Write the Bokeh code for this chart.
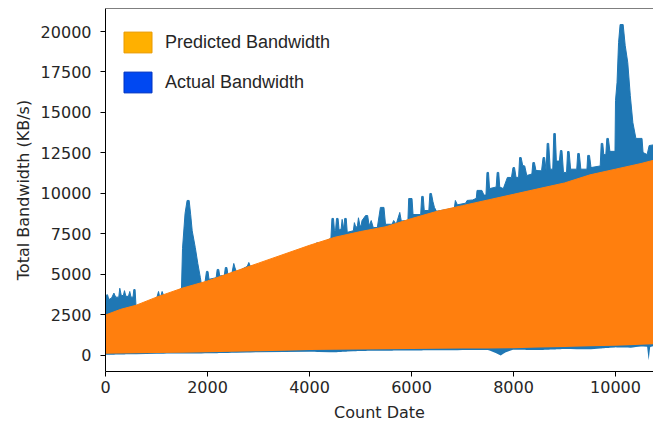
import numpy as np
from bokeh.plotting import figure
from bokeh.models import FixedTicker, Span, Legend, LegendItem, Range1d
from bokeh.embed import file_html
from bokeh.resources import INLINE

# ---- data ----
blue_hi_x = [0, 40, 65, 120, 165, 200, 260, 280, 310, 350, 372, 400, 450, 476, 500, 540, 555, 580, 600,
             1000, 1040, 1070, 1110, 1140, 1200, 1400, 1490, 1510, 1560, 1600, 1640, 1670, 1700,
             1760, 1810, 1860, 1880, 1950, 1980, 2010, 2030, 2170, 2190, 2220, 2240, 2330, 2350,
             2380, 2400, 2480, 2515, 2540, 2570, 2780, 2810, 2840, 3000, 3500, 4000, 4100, 4150,
             4180, 4400, 4420, 4440, 4470, 4490, 4510, 4530, 4560, 4580, 4620, 4640, 4670, 4690,
             4720, 4740, 4860, 4880, 4910, 4940, 4960, 4990, 5010, 5030, 5100, 5140, 5170, 5210,
             5250, 5330, 5390, 5460, 5490, 5620, 5650, 5700, 5770, 5800, 5930, 5945, 6010, 6030,
             6180, 6200, 6230, 6250, 6340, 6360, 6390, 6420, 6450, 6490, 6840, 6860, 6900, 7060,
             7090, 7200, 7270, 7285, 7380, 7420, 7460, 7480, 7510, 7530, 7660, 7680, 7710, 7730,
             7800, 7880, 7960, 7990, 8020, 8050, 8100, 8120, 8150, 8180, 8220, 8260, 8360, 8380,
             8410, 8440, 8550, 8580, 8610, 8640, 8660, 8690, 8720, 8770, 8790, 8820, 8840, 8900,
             8920, 8950, 8980, 9040, 9060, 9090, 9120, 9240, 9260, 9290, 9320, 9440, 9455, 9490,
             9520, 9700, 9720, 9750, 9770, 9810, 9830, 9860, 9890, 9990, 10000, 10030, 10060,
             10090, 10150, 10190, 10240, 10290, 10340, 10400, 10520, 10540, 10620, 10660, 10745]
blue_hi_y = [3700, 3750, 3450, 3550, 3850, 3600, 3600, 4150, 3700, 3700, 4000, 3650, 3650, 3950, 3600, 3600, 4070, 4070, 2950,
             3500, 3950, 3500, 3950, 3700, 3700, 3950, 4150, 6600, 8770, 9570, 9570, 8700, 7700,
             6670, 5680, 4800, 4400, 4500, 5190, 5190, 4700, 4800, 5310, 5310, 4900, 4950, 5430,
             5430, 5000, 5100, 5680, 5400, 5150, 5500, 5740, 5500, 5600, 6150, 6700, 6800, 6980,
             6850, 7200, 7250, 8460, 8460, 7700, 7700, 8460, 8460, 7750, 7800, 8400, 7800, 8460,
             8460, 7600, 7700, 8200, 7900, 8000, 8500, 8000, 8000, 8330, 8640, 8640, 8000, 8330,
             7900, 7900, 9140, 9140, 8100, 8100, 8330, 8100, 8830, 8300, 8350, 9690, 9690, 8700,
             8700, 9820, 9820, 8950, 8950, 10000, 10000, 9500, 9140, 8900, 9100, 9570, 9300, 9400,
             9570, 9600, 9700, 10190, 10190, 9900, 9900, 11300, 11300, 10300, 10400, 11300, 11300, 10400,
             10300, 10990, 10990, 11600, 11600, 10990, 11000, 12220, 12220, 11730, 11700, 11110, 11200, 11910,
             11910, 11420, 11400, 12220, 12220, 11400, 13090, 13090, 11500, 11500, 13700, 13700, 12000, 12000,
             12650, 12650, 11300, 11300, 12590, 12590, 11500, 11500, 12470, 12470, 11500, 11500, 12350, 12350,
             11600, 11700, 13090, 13090, 12400, 12400, 13400, 13400, 12600, 12600, 15740, 16850, 19320,
             20430, 20430, 19140, 18090, 16050, 14380, 13400, 13400, 12530, 12400, 12960, 13000]

blue_lo_x = [0, 1000, 2000, 3000, 4000, 4500, 5000, 6000, 7000, 7500, 7650, 7750, 7850, 8000, 8500,
             9000, 9500, 10000, 10300, 10500, 10620, 10650, 10680, 10745]
blue_lo_y = [40, 110, 130, 200, 230, 200, 280, 310, 330, 340, 150, 0, 200, 360, 330,
             400, 380, 500, 480, 560, 540, -300, 520, 580]

pred_hi_x = [0, 300, 600, 1000, 1500, 2000, 2500, 3000, 3500, 4000, 4500, 5000, 5500, 6000,
             6500, 7000, 7500, 8000, 8500, 9000, 9500, 10000, 10500, 10745]
pred_hi_y = [2500, 2850, 3100, 3600, 4150, 4600, 5150, 5700, 6250, 6800, 7300, 7650, 7950, 8450,
             8900, 9250, 9600, 9950, 10300, 10650, 11150, 11500, 11850, 12050]
pred_lo_x = [0, 2000, 4000, 6000, 8000, 10000, 10745]
pred_lo_y = [100, 200, 330, 400, 450, 600, 700]

x_ticks = [0, 2000, 4000, 6000, 8000, 10000]
y_ticks = [0, 2500, 5000, 7500, 10000, 12500, 15000, 17500, 20000]

legend_labels = ["Predicted Bandwidth", "Actual Bandwidth"]

BLUE = "#1f77b4"
ORANGE = "#ff7f0e"
TXT = "#262626"
FONT_T = "DejaVu Sans"

p = figure(width=653, height=424, output_backend="svg", toolbar_location=None,
           x_range=Range1d(0, 10745), y_range=Range1d(-990, 21420),
           min_border_left=105, min_border_right=0, min_border_top=8, min_border_bottom=53)
p.outline_line_color = None
p.grid.visible = False
p.background_fill_color = "white"
p.border_fill_color = "white"

# actual bandwidth (envelope of the dense line)
bx = np.union1d(blue_hi_x, blue_lo_x)
b_hi = np.interp(bx, blue_hi_x, blue_hi_y)
b_lo = np.interp(bx, blue_lo_x, blue_lo_y)
p.varea(x=bx, y1=b_lo, y2=b_hi, fill_color=BLUE)
p.line(x=blue_hi_x, y=blue_hi_y, line_color=BLUE, line_width=1)

# predicted bandwidth
ox = np.union1d(pred_hi_x, pred_lo_x)
o_hi = np.interp(ox, pred_hi_x, pred_hi_y)
o_lo = np.interp(ox, pred_lo_x, pred_lo_y)
p.varea(x=ox, y1=o_lo, y2=o_hi, fill_color=ORANGE)
p.line(x=pred_hi_x, y=pred_hi_y, line_color=ORANGE, line_width=1)

# top spine
p.add_layout(Span(location=21420, dimension="width", line_color="black", line_width=1))

for ax in (p.xaxis[0], p.yaxis[0]):
    ax.minor_tick_line_color = None
    ax.major_tick_out = 5
    ax.major_tick_in = 0
    ax.axis_line_color = "black"
    ax.major_tick_line_color = "black"
    ax.major_label_text_font = FONT_T
    ax.major_label_text_font_size = "16px"
    ax.major_label_text_color = TXT
    ax.axis_label_text_font = FONT_T
    ax.axis_label_text_font_size = "16px"
    ax.axis_label_text_font_style = "normal"
    ax.axis_label_text_color = TXT

p.xaxis.ticker = FixedTicker(ticks=x_ticks)
p.yaxis.ticker = FixedTicker(ticks=y_ticks)
p.xaxis.major_label_standoff = 4
p.yaxis.major_label_standoff = 9
p.xaxis.axis_label = "Count Date"
p.yaxis.axis_label = "Total Bandwidth (KB/s)"
p.xaxis.axis_label_standoff = 7
p.yaxis.axis_label_standoff = 5

# legend with colour patches (no visible marks: NaN coordinates)
nan = [float("nan")]
r_pred = p.quad(left=nan, right=nan, top=nan, bottom=nan, fill_color="#ffb000", line_color="#e89a00")
r_act = p.quad(left=nan, right=nan, top=nan, bottom=nan, fill_color="#0048f2", line_color="#0033c0")
legend = Legend(items=[LegendItem(label=legend_labels[0], renderers=[r_pred]),
                       LegendItem(label=legend_labels[1], renderers=[r_act])],
                location=(15, 276), padding=0, margin=0, spacing=14,
                glyph_width=35, glyph_height=26, label_standoff=10,
                label_text_font="Liberation Sans", label_text_font_size="18px",
                label_text_color=TXT, border_line_color=None, background_fill_alpha=0)
p.add_layout(legend)

open("out.html", "w").write(file_html(p, INLINE))
